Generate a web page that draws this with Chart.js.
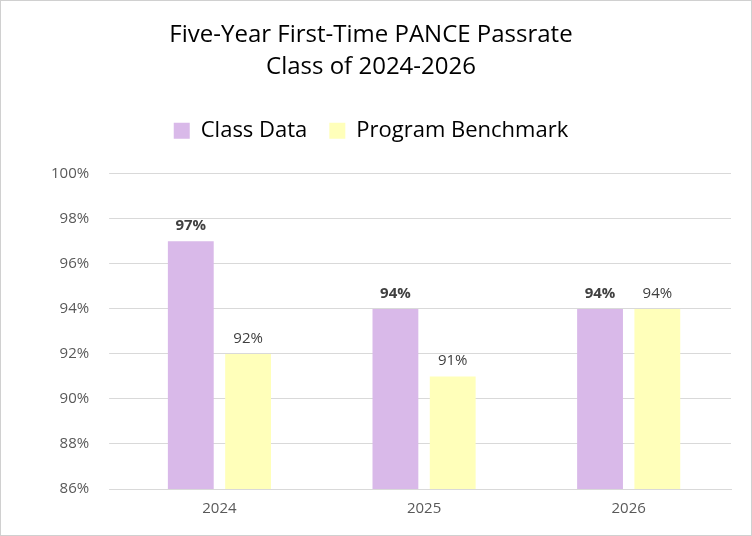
<!DOCTYPE html>
<html>
<head>
<meta charset="utf-8">
<script src="https://cdn.jsdelivr.net/npm/chart.js@4/dist/chart.umd.min.js"></script>
<style>
  html, body { margin: 0; padding: 0; background: #fff; }
  #wrap { position: relative; width: 750px; height: 534px; border: 1px solid #d0d0d0; }
</style>
</head>
<body>
<div id="wrap"><canvas id="chart"></canvas></div>
<script>
// Chart data
const years = ['2024', '2025', '2026'];
const classData = [97, 94, 94];
const benchmark = [92, 91, 94];
const yTicks = [86, 88, 90, 92, 94, 96, 98, 100];

// --- Value labels above bars ---
const valueLabels = {
    id: 'valueLabels',
    afterDatasetsDraw(chart) {
        const ctx = chart.ctx;
        chart.data.datasets.forEach((ds, i) => {
            const meta = chart.getDatasetMeta(i);
            meta.data.forEach((bar, j) => {
                ctx.save();
                ctx.font = (i === 0 ? 'bold ' : '') + '15px "Open Sans", sans-serif';
                ctx.fillStyle = '#404040';
                ctx.textAlign = 'center';
                ctx.textBaseline = 'bottom';
                ctx.fillText(ds.data[j] + '%', bar.x, bar.y - 8);
                ctx.restore();
            });
        });
    }
};

// extra space under the legend
const legendGap = {
    id: 'legendGap',
    beforeInit(chart) {
        const fit = chart.legend.fit;
        chart.legend.fit = function () {
            fit.bind(chart.legend)();
            this.height += 22;
        };
    }
};

new Chart(document.getElementById('chart'), {
    type: 'bar',
    data: {
        labels: years,
        datasets: [
            { label: 'Class Data', data: classData, backgroundColor: '#D9B9E9' },
            { label: 'Program Benchmark', data: benchmark, backgroundColor: '#FFFFBA' },
        ],
    },
    options: {
        responsive: true,
        maintainAspectRatio: false,
        animation: false,
        datasets: { bar: { categoryPercentage: 0.56, barPercentage: 0.8 } },
        layout: { padding: { left: 10, right: 20, top: 10, bottom: 14 } },
        scales: {
            x: {
                grid: { display: false },
                border: { color: '#d9d9d9' },
                ticks: { color: '#595959', font: { size: 15, family: 'Open Sans' } },
            },
            y: {
                min: 86,
                max: 100,
                afterBuildTicks: axis => { axis.ticks = yTicks.map(v => ({ value: v })); },
                afterFit: axis => { axis.width += 20; },
                grid: { color: '#d9d9d9' },
                border: { display: false },
                ticks: {
                    color: '#595959',
                    padding: 20,
                    font: { size: 15, family: 'Open Sans' },
                    callback: v => v + '%',
                },
            },
        },
        plugins: {
            title: {
                display: true,
                text: ['Five-Year First-Time PANCE Passrate', 'Class of 2024-2026'],
                color: '#000',
                font: { size: 24, family: 'Open Sans', weight: 'normal', lineHeight: 1.35 },
                padding: { top: 8, bottom: 14 },
            },
            legend: {
                labels: {
                    color: '#000',
                    font: { size: 22, family: 'Open Sans' },
                    boxWidth: 16,
                    boxHeight: 16,
                    padding: 22,
                },
            },
            tooltip: { enabled: false },
        },
    },
    plugins: [valueLabels, legendGap],
});
</script>
</body>
</html>
